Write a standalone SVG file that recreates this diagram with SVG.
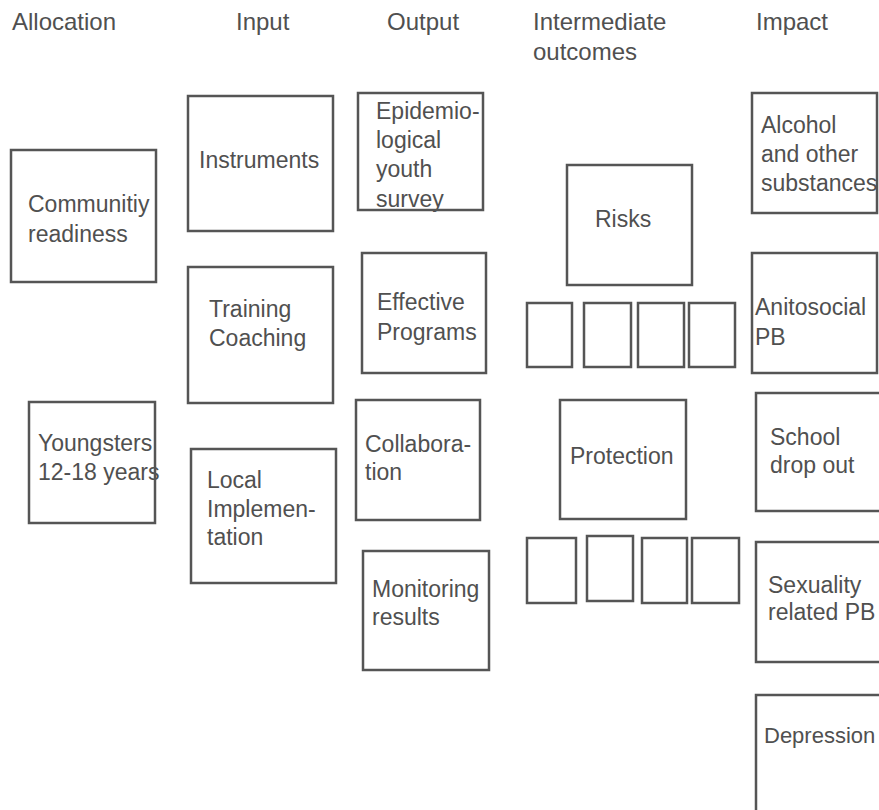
<svg xmlns="http://www.w3.org/2000/svg" width="879" height="810" viewBox="0 0 879 810">
<style>
  text { font-family: "Liberation Sans", Arial, sans-serif; font-size: 23px; fill: #505050; }
  .hd { font-size: 24px; }
  .box { fill: #ffffff; stroke: #555555; stroke-width: 2.5; }
  .open { fill: none; stroke: #555555; stroke-width: 2.5; }
  .sm { fill: #ffffff; stroke: #555555; stroke-width: 2.5; }
</style>
<rect x="0" y="0" width="879" height="810" fill="#ffffff"/>
<g id="headers">
  <text class="hd" x="12" y="30">Allocation</text>
  <text class="hd" x="236" y="30">Input</text>
  <text class="hd" x="387" y="30">Output</text>
  <text class="hd" x="533" y="30">Intermediate</text>
  <text class="hd" x="533" y="60">outcomes</text>
  <text class="hd" x="756" y="30">Impact</text>
</g>
<g id="connectors"></g>
<g id="community-readiness">
  <rect class="box" x="11" y="150" width="145" height="132"/>
  <text x="28" y="212">Communitiy</text>
  <text x="28" y="242">readiness</text>
</g>
<g id="youngsters">
  <text x="38" y="451">Youngsters</text>
  <text x="38" y="480">12-18 years</text>
  <rect class="open" x="29" y="402" width="126" height="121"/>
</g>
<g id="instruments">
  <rect class="box" x="188" y="96" width="145" height="135"/>
  <text x="199" y="168">Instruments</text>
</g>
<g id="training-coaching">
  <rect class="box" x="188" y="267" width="145" height="136"/>
  <text x="209" y="317">Training</text>
  <text x="209" y="346">Coaching</text>
</g>
<g id="local-implementation">
  <rect class="box" x="191" y="449" width="145" height="134"/>
  <text x="207" y="488">Local</text>
  <text x="207" y="517">Implemen-</text>
  <text x="207" y="545">tation</text>
</g>
<g id="epidemiological-survey">
  <text x="376" y="119">Epidemio-</text>
  <text x="376" y="148">logical</text>
  <text x="376" y="177">youth</text>
  <text x="376" y="207">survey</text>
  <rect class="open" x="358" y="93" width="125" height="117"/>
</g>
<g id="effective-programs">
  <rect class="box" x="362" y="253" width="124" height="120"/>
  <text x="377" y="310">Effective</text>
  <text x="377" y="340">Programs</text>
</g>
<g id="collaboration">
  <rect class="box" x="356" y="400" width="124" height="120"/>
  <text x="365" y="452">Collabora-</text>
  <text x="365" y="480">tion</text>
</g>
<g id="monitoring-results">
  <rect class="box" x="363" y="551" width="126" height="119"/>
  <text x="372" y="597">Monitoring</text>
  <text x="372" y="625">results</text>
</g>
<g id="risks">
  <rect class="box" x="567" y="165" width="125" height="120"/>
  <text x="595" y="227">Risks</text>
</g>
<g id="risk-factors">
  <rect class="sm" x="527" y="303" width="45" height="64"/>
  <rect class="sm" x="584" y="303" width="47" height="64"/>
  <rect class="sm" x="638" y="303" width="46" height="64"/>
  <rect class="sm" x="689" y="303" width="46" height="64"/>
</g>
<g id="protection">
  <rect class="box" x="560" y="400" width="126" height="119"/>
  <text x="570" y="464">Protection</text>
</g>
<g id="protective-factors">
  <rect class="sm" x="527" y="538" width="49" height="65"/>
  <rect class="sm" x="587" y="536" width="46" height="65"/>
  <rect class="sm" x="642" y="538" width="45" height="65"/>
  <rect class="sm" x="692" y="538" width="47" height="65"/>
</g>
<g id="alcohol">
  <rect class="box" x="752" y="93" width="125" height="120"/>
  <text x="761" y="133">Alcohol</text>
  <text x="761" y="162">and other</text>
  <text x="761" y="191">substances</text>
</g>
<g id="antisocial">
  <rect class="box" x="752" y="253" width="125" height="120"/>
  <text x="755" y="315">Anitosocial</text>
  <text x="755" y="345">PB</text>
</g>
<g id="school-drop-out">
  <rect class="box" x="756" y="393" width="125" height="118"/>
  <text x="770" y="445">School</text>
  <text x="770" y="473">drop out</text>
</g>
<g id="sexuality">
  <rect class="box" x="756" y="542" width="125" height="120"/>
  <text x="768" y="593">Sexuality</text>
  <text x="768" y="620">related PB</text>
</g>
<g id="depression">
  <rect class="box" x="756" y="695" width="125" height="125"/>
  <text x="764" y="743" style="font-size:22px">Depression</text>
</g>
</svg>
